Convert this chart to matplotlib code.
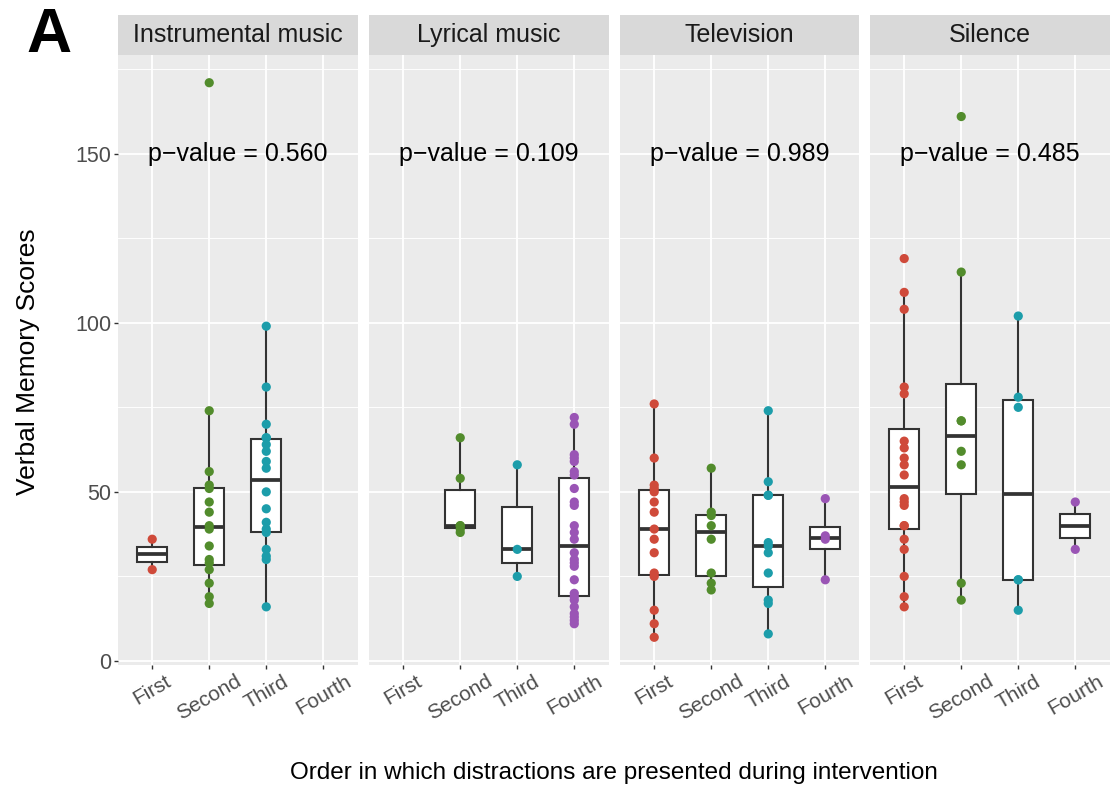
import matplotlib.pyplot as plt
import numpy as np

plt.rcParams['font.family'] = ['Liberation Sans', 'DejaVu Sans']

# facets, x categories and annotations
panels = ["Instrumental music", "Lyrical music", "Television", "Silence"]
orders = ["First", "Second", "Third", "Fourth"]
p_values = ["0.560", "0.109", "0.989", "0.485"]
colors = ["#CF4A3A", "#528C2C", "#1C9DAA", "#9A55B5"]

# verbal memory scores per facet, one list per presentation order
instrumental = [[36, 27],
                [171, 74, 56, 52, 51, 47, 44, 40, 39, 34, 30, 29, 27, 23, 19, 17],
                [99, 81, 70, 66, 66, 64, 62, 59, 57, 50, 45, 41, 39, 38, 33, 31, 30, 16],
                []]
lyrical = [[],
           [66, 54, 40, 40, 39, 38],
           [58, 33, 25],
           [72, 70, 61, 60, 59, 56, 55, 51, 47, 46, 40, 38, 36, 32, 30, 29, 28,
            24, 20, 19, 18, 16, 14, 13, 12, 11]]
television = [[76, 60, 52, 51, 50, 47, 44, 39, 36, 32, 26, 25, 15, 11, 7],
              [57, 44, 43, 40, 36, 26, 23, 21],
              [74, 53, 49, 49, 35, 34, 32, 26, 18, 17, 8],
              [48, 37, 36, 24]]
silence = [[119, 109, 104, 81, 79, 65, 63, 60, 58, 55, 48, 47, 46, 40, 40, 36, 33, 25, 19, 16],
           [161, 115, 71, 71, 62, 58, 23, 18],
           [102, 78, 75, 24, 24, 15],
           [47, 33]]
scores = [instrumental, lyrical, television, silence]

W, H = 1114, 791
fig = plt.figure(figsize=(W / 100, H / 100), dpi=100)

lefts = [118, 369, 620, 870]
pw = 239.5
top, bottom, strip_h = 55, 665, 40
dark = "#333333"

for i, name in enumerate(panels):
    ax = fig.add_axes([lefts[i] / W, (H - bottom) / H, pw / W, (bottom - top) / H])
    ax.set_facecolor("#EBEBEB")
    for s in ax.spines.values():
        s.set_visible(False)
    ax.set_xlim(0.4, 4.6)
    ax.set_ylim(-1.2, 179.2)
    ax.set_yticks([0, 50, 100, 150])
    ax.set_yticks([25, 75, 125, 175], minor=True)
    ax.set_xticks([1, 2, 3, 4])
    ax.grid(which="major", color="white", lw=1.3)
    ax.grid(which="minor", axis="y", color="white", lw=0.65)
    ax.set_axisbelow(True)

    groups = scores[i]
    pos = [k + 1 for k in range(4) if len(groups[k]) > 0]
    data = [groups[k] for k in range(4) if len(groups[k]) > 0]
    ax.boxplot(data, positions=pos, widths=0.52, showfliers=False, showcaps=False,
               patch_artist=True, manage_ticks=False,
               boxprops=dict(facecolor="white", edgecolor=dark, lw=1.5),
               medianprops=dict(color=dark, lw=2.7),
               whiskerprops=dict(color=dark, lw=1.5), zorder=2)
    for k in range(4):
        vals = groups[k]
        ax.scatter([k + 1] * len(vals), vals, s=44, color=colors[k],
                   edgecolors="none", zorder=3)

    ax.text(2.5, 150, "p\u2212value = " + p_values[i], ha="center", va="center",
            fontsize=18, color="black")

    ax.set_xticklabels(orders, rotation=30, ha="center", va="top",
                       fontsize=15, color="#4D4D4D")
    ax.tick_params(axis="both", which="major", length=3, width=1.0, color=dark, pad=2)
    ax.tick_params(axis="y", which="minor", left=False)
    if i == 0:
        ax.tick_params(axis="y", labelsize=15.5, labelcolor="#4D4D4D")
    else:
        ax.tick_params(axis="y", left=False, labelleft=False)

    strip = fig.add_axes([lefts[i] / W, (H - top) / H, pw / W, strip_h / H])
    strip.set_facecolor("#D9D9D9")
    strip.set_xticks([])
    strip.set_yticks([])
    for s in strip.spines.values():
        s.set_visible(False)
    strip.text(0.5, 0.5, name, ha="center", va="center", fontsize=18,
               color="#1A1A1A", transform=strip.transAxes)

fig.text(28 / W, 1 - 362 / H, "Verbal Memory Scores", rotation=90,
         ha="center", va="center", fontsize=19)
fig.text(614 / W, 1 - 773 / H,
         "Order in which distractions are presented during intervention",
         ha="center", va="center", fontsize=17.5)
fig.text(26 / W, 1 - 36 / H, "A", ha="left", va="center", fontsize=45,
         fontweight="bold")

fig.savefig("out.png", dpi=100)
